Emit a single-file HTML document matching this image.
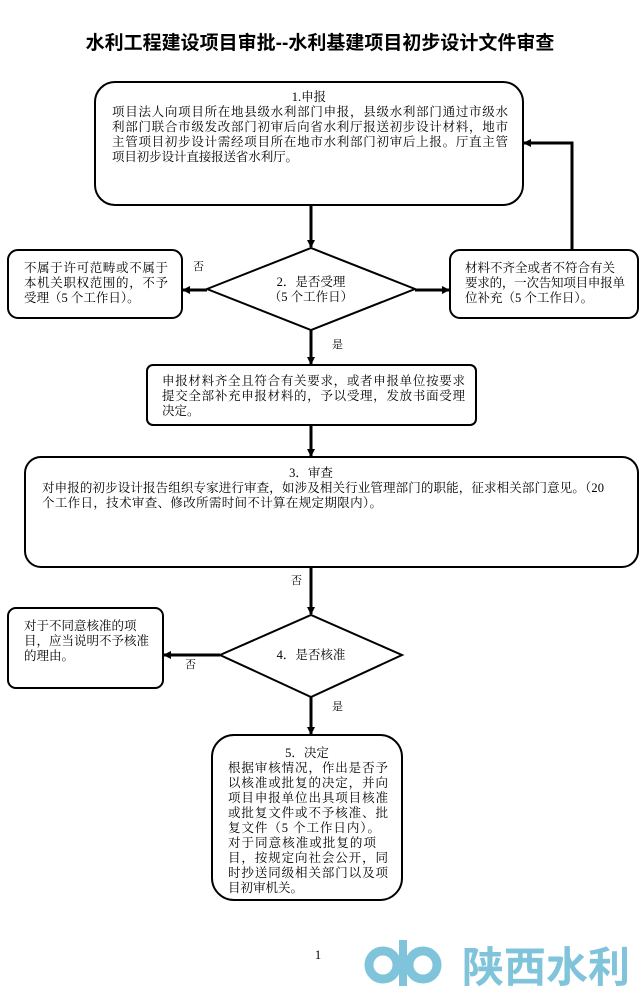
<!DOCTYPE html>
<html><head><meta charset="utf-8"><style>
body{margin:0;background:#fff;}
svg{display:block;font-family:"Liberation Serif","Noto Serif CJK SC","Noto Sans CJK SC",serif;}
</style></head><body>
<svg width="640" height="999" viewBox="0 0 640 999" xmlns="http://www.w3.org/2000/svg">
<defs><marker id="a" markerWidth="8" markerHeight="8" refX="7" refY="4" orient="auto" markerUnits="userSpaceOnUse"><path d="M0,0 L8,4 L0,8 Z" fill="#000"/></marker></defs>
<text x="320" y="49" font-size="19" text-anchor="middle" font-weight="bold" font-family="Liberation Sans,Noto Sans CJK SC,sans-serif">水利工程建设项目审批--水利基建项目初步设计文件审查</text>
<g fill="none" stroke="#000" stroke-width="2">
<rect x="95" y="82" width="428" height="123" rx="20"/>
<polygon points="207,289 311,248 415,289 311,330"/>
<rect x="8" y="250" width="174" height="68" rx="10"/>
<rect x="450" y="250" width="188" height="68" rx="10"/>
<rect x="147" y="365" width="329" height="60" rx="6"/>
<rect x="25" y="457" width="613" height="110" rx="16"/>
<polygon points="220,655 311,615 402,655 311,697"/>
<rect x="8" y="608" width="155" height="80" rx="8"/>
<rect x="212" y="735" width="190" height="165" rx="22"/>
<g stroke-width="3">
<line x1="311" y1="205" x2="311" y2="247" marker-end="url(#a)"/>
<line x1="207" y1="290" x2="183" y2="290" marker-end="url(#a)"/>
<line x1="415" y1="290" x2="449" y2="290" marker-end="url(#a)"/>
<polyline points="572,250 572,143 524,143" marker-end="url(#a)"/>
<line x1="311" y1="330" x2="311" y2="364" marker-end="url(#a)"/>
<line x1="311" y1="425" x2="311" y2="456" marker-end="url(#a)"/>
<line x1="311" y1="567" x2="311" y2="614" marker-end="url(#a)"/>
<line x1="220" y1="655" x2="164" y2="655" marker-end="url(#a)"/>
<line x1="311" y1="697" x2="311" y2="734" marker-end="url(#a)"/>
</g></g>
<g font-size="12.5" fill="#000">
<text x="309" y="101" text-anchor="middle">1.申报</text>
<text x="112" y="116" textLength="396" lengthAdjust="spacing">项目法人向项目所在地县级水利部门申报，县级水利部门通过市级水</text>
<text x="112" y="131" textLength="396" lengthAdjust="spacing">利部门联合市级发改部门初审后向省水利厅报送初步设计材料，地市</text>
<text x="112" y="146" textLength="396" lengthAdjust="spacing">主管项目初步设计需经项目所在地市水利部门初审后上报。厅直主管</text>
<text x="112" y="161" textLength="186" lengthAdjust="spacing">项目初步设计直接报送省水利厅。</text>
<text x="24" y="272" textLength="144" lengthAdjust="spacing">不属于许可范畴或不属于</text>
<text x="24" y="287" textLength="144" lengthAdjust="spacing">本机关职权范围的，不予</text>
<text x="24" y="302">受理（5 个工作日）。</text>
<text x="193" y="270" font-size="11">否</text>
<text x="311" y="286" text-anchor="middle">2．是否受理</text>
<text x="311" y="301" text-anchor="middle">（5 个工作日）</text>
<text x="465" y="272">材料不齐全或者不符合有关</text>
<text x="465" y="287" textLength="160" lengthAdjust="spacing">要求的，一次告知项目申报单</text>
<text x="465" y="302">位补充（5 个工作日）。</text>
<text x="332" y="348" font-size="11">是</text>
<text x="162" y="385" textLength="303" lengthAdjust="spacing">申报材料齐全且符合有关要求，或者申报单位按要求</text>
<text x="162" y="400" textLength="303" lengthAdjust="spacing">提交全部补充申报材料的，予以受理，发放书面受理</text>
<text x="162" y="415">决定。</text>
<text x="311" y="477" text-anchor="middle">3．审查</text>
<text x="42" y="492" textLength="562" lengthAdjust="spacing">对申报的初步设计报告组织专家进行审查，如涉及相关行业管理部门的职能，征求相关部门意见。（20</text>
<text x="42" y="507" textLength="340" lengthAdjust="spacing">个工作日，技术审查、修改所需时间不计算在规定期限内）。</text>
<text x="291" y="584" font-size="11">否</text>
<text x="24" y="630">对于不同意核准的项</text>
<text x="24" y="645">目，应当说明不予核准</text>
<text x="24" y="660">的理由。</text>
<text x="311" y="659" text-anchor="middle">4．是否核准</text>
<text x="185" y="668" font-size="11">否</text>
<text x="332" y="710" font-size="11">是</text>
<text x="307" y="757" text-anchor="middle">5．决定</text>
<text x="228" y="772" textLength="160" lengthAdjust="spacing">根据审核情况，作出是否予</text>
<text x="228" y="787" textLength="160" lengthAdjust="spacing">以核准或批复的决定，并向</text>
<text x="228" y="802" textLength="160" lengthAdjust="spacing">项目申报单位出具项目核准</text>
<text x="228" y="817" textLength="160" lengthAdjust="spacing">或批复文件或不予核准、批</text>
<text x="228" y="832" textLength="152" lengthAdjust="spacing">复文件（5 个工作日内）。</text>
<text x="228" y="847" textLength="148" lengthAdjust="spacing">对于同意核准或批复的项</text>
<text x="228" y="862" textLength="160" lengthAdjust="spacing">目，按规定向社会公开，同</text>
<text x="228" y="877" textLength="160" lengthAdjust="spacing">时抄送同级相关部门以及项</text>
<text x="228" y="892">目初审机关。</text>
<text x="318" y="959" text-anchor="middle">1</text>
</g>
<g fill="none" stroke="#7fc4da" stroke-width="9">
<circle cx="383" cy="965" r="14"/>
<circle cx="423" cy="965" r="14"/>
</g>
<rect x="399" y="940" width="8" height="46" fill="#7fc4da"/>
<text x="462" y="982" font-size="42" font-weight="bold" fill="#7fc4da" font-family="Liberation Sans,Noto Sans CJK SC,sans-serif">陕西水利</text>
</svg>
</body></html>
